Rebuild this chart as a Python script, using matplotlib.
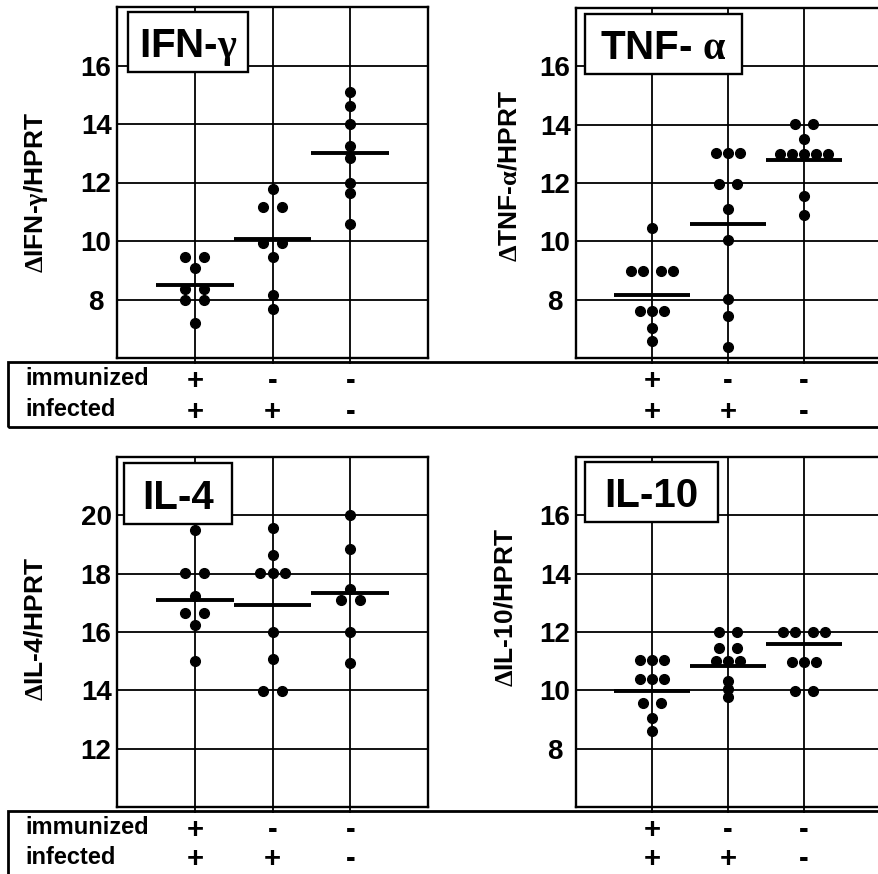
import numpy as np
import matplotlib
matplotlib.use('Agg')
import matplotlib.pyplot as plt
from matplotlib.patches import Rectangle
from matplotlib.transforms import blended_transform_factory

plt.rcParams['font.family'] = ['Liberation Sans', 'DejaVu Sans']
plt.rcParams['font.weight'] = 'bold'
plt.rcParams['mathtext.fontset'] = 'custom'
plt.rcParams['mathtext.rm'] = 'Liberation Serif'
plt.rcParams['mathtext.it'] = 'Liberation Serif:italic'
plt.rcParams['mathtext.bf'] = 'Liberation Serif:bold'

# groups: immunized+/infected+, immunized-/infected+, immunized-/infected-
ifn_g1 = [9.44, 9.44, 9.08, 8.36, 8.36, 8.0, 8.0, 7.21]
ifn_g2 = [11.78, 11.17, 11.17, 9.92, 9.92, 9.44, 8.15, 7.69]
ifn_g3 = [15.09, 14.62, 14.0, 13.25, 12.83, 12.0, 11.63, 10.58]
ifn_med = [8.48, 10.08, 13.0]

tnf_g1 = [10.46, 8.98, 8.98, 8.98, 8.98, 7.6, 7.6, 7.6, 7.04, 6.59]
tnf_g2 = [13.02, 13.02, 13.02, 11.98, 11.98, 11.11, 10.03, 8.03, 7.43, 6.38]
tnf_g3 = [14.03, 14.03, 13.51, 13.0, 13.0, 13.0, 13.0, 13.0, 11.54, 10.9]
tnf_med = [8.16, 10.6, 12.8]

il4_g1 = [19.51, 18.03, 18.03, 17.23, 16.64, 16.64, 16.23, 15.02]
il4_g2 = [19.58, 18.63, 18.02, 18.02, 18.02, 16.0, 15.06, 13.97, 13.97]
il4_g3 = [20.0, 18.86, 17.46, 17.1, 17.1, 16.0, 14.93]
il4_med = [17.11, 16.91, 17.33]

il10_g1 = [11.03, 11.03, 11.03, 10.38, 10.38, 10.38, 9.55, 9.55, 9.06, 8.62]
il10_g2 = [12.0, 12.0, 11.46, 11.46, 11.02, 11.02, 11.02, 10.32, 10.03, 9.77]
il10_g3 = [12.0, 12.0, 12.0, 12.0, 10.98, 10.98, 10.98, 9.98, 9.98]
il10_med = [9.98, 10.83, 11.6]

immunized = ['+', '-', '-']
infected = ['+', '+', '-']


def spread(vals, step=0.155):
    # horizontal offsets for equal values (dot plot)
    vals = np.array(vals)
    out = np.zeros(len(vals))
    for v in np.unique(vals):
        idx = np.where(vals == v)[0]
        n = len(idx)
        if n % 2 == 1:
            offs = (np.arange(n) - (n - 1) / 2) * step
        else:
            k = np.arange(n // 2)
            right = 0.12 + k * step
            offs = np.concatenate([-right[::-1], right])
        out[idx] = offs
    return out


fig = plt.figure(figsize=(8.79, 8.74), dpi=100)

def fx(px):
    return px / 879.0

def fy(py):
    return 1 - py / 874.0


panels = [
    dict(rect=[fx(117), fy(358), 311/879, 351/874], groups=[ifn_g1, ifn_g2, ifn_g3], med=ifn_med,
         ylim=(6, 18), ticks=[8, 10, 12, 14, 16], title=r'IFN-$\mathrm{\gamma}$',
         ylabel=r'$\Delta$IFN-$\mathbf{\gamma}$/HPRT', labpos=(-0.215, 0.47),
         box=(0.035, 0.815, 0.386, 0.171)),
    dict(rect=[fx(576), fy(358), 304/879, 350/874], groups=[tnf_g1, tnf_g2, tnf_g3], med=tnf_med,
         ylim=(6, 18), ticks=[8, 10, 12, 14, 16], title=r'TNF- $\mathrm{\alpha}$',
         ylabel=r'$\Delta$TNF-$\mathbf{\alpha}$/HPRT', labpos=(-0.178, 0.52),
         box=(0.03, 0.812, 0.516, 0.171)),
    dict(rect=[fx(117), fy(807), 311/879, 350/874], groups=[il4_g1, il4_g2, il4_g3], med=il4_med,
         ylim=(10, 22), ticks=[12, 14, 16, 18, 20], title='IL-4',
         ylabel=r'$\Delta$IL-4/HPRT', labpos=(-0.225, 0.51),
         box=(0.0225, 0.809, 0.347, 0.174)),
    dict(rect=[fx(576), fy(807), 304/879, 350/874], groups=[il10_g1, il10_g2, il10_g3], med=il10_med,
         ylim=(6, 18), ticks=[8, 10, 12, 14, 16], title='IL-10',
         ylabel=r'$\Delta$IL-10/HPRT', labpos=(-0.194, 0.57),
         box=(0.03, 0.814, 0.4375, 0.171)),
]

axes = []
for p in panels:
    ax = fig.add_axes(p['rect'])
    axes.append(ax)
    ax.set_xlim(0, 4)
    ax.set_ylim(*p['ylim'])
    ax.set_xticks([1, 2, 3])
    ax.set_xticklabels([])
    ax.set_yticks(p['ticks'])
    ax.set_yticklabels([str(t) for t in p['ticks']], fontsize=20, fontweight='heavy', ha='center')
    ax.tick_params(axis='y', length=0, pad=15)
    ax.tick_params(axis='x', length=4, width=1.3, direction='out')
    ax.grid(True, color='black', lw=1.3)
    ax.set_axisbelow(True)
    for s in ax.spines.values():
        s.set_linewidth(1.7)
    for i, g in enumerate(p['groups']):
        x = i + 1
        ax.plot(x + spread(g), g, 'o', color='black', ms=7, zorder=3, clip_on=False)
        ax.plot([x - 0.5, x + 0.5], [p['med'][i], p['med'][i]], color='black', lw=2.8,
                solid_capstyle='butt', zorder=4)
    ax.set_ylabel(p['ylabel'], fontsize=19, fontweight='heavy')
    ax.yaxis.set_label_coords(*p['labpos'])
    bx, by, bw, bh = p['box']
    ax.add_patch(Rectangle((bx, by), bw, bh, transform=ax.transAxes, fc='white', ec='black',
                           lw=1.7, zorder=5))
    ax.text(bx + bw / 2, by + 0.25 * bh, p['title'], transform=ax.transAxes, fontsize=29,
            fontweight='heavy', ha='center', va='baseline', zorder=6)

# immunized / infected boxes
for top, row1, row2, pair in [(362, 378, 410, (axes[0], axes[1])),
                              (811, 827, 857, (axes[2], axes[3]))]:
    fig.add_artist(Rectangle((fx(8), fy(top + 65)), 1.0, 65 / 874, transform=fig.transFigure,
                             fill=False, ec='black', lw=2.0))
    fig.text(fx(25), fy(row1), 'immunized', fontsize=17, fontweight='heavy', va='center')
    fig.text(fx(25), fy(row2), 'infected', fontsize=17, fontweight='heavy', va='center')
    for ax in pair:
        tr = blended_transform_factory(ax.transData, fig.transFigure)
        for i in range(3):
            fig.text(i + 1, fy(row1 + 3), immunized[i], transform=tr, fontsize=21,
                     fontweight='heavy', ha='center', va='center')
            fig.text(i + 1, fy(row2 + 2), infected[i], transform=tr, fontsize=21,
                     fontweight='heavy', ha='center', va='center')

fig.savefig('out.png', dpi=100)
